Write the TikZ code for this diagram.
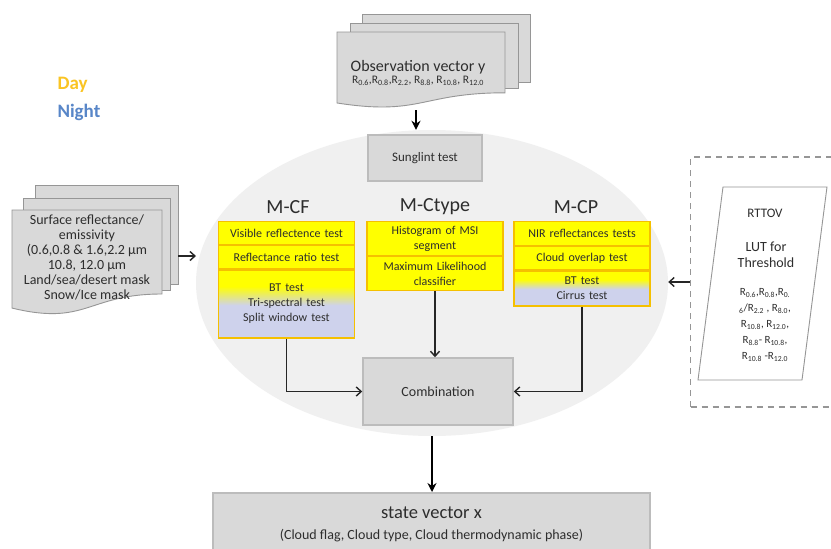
\documentclass[tikz,border=0pt]{standalone}
\usepackage{fontspec}
\setmainfont{Carlito}
\usetikzlibrary{positioning,shapes.geometric,arrows.meta}
\definecolor{boxgray}{RGB}{217,217,217}
\definecolor{edgegray}{RGB}{188,188,188}
\definecolor{pagegray}{RGB}{150,150,150}
\definecolor{ovalgray}{RGB}{240,240,240}
\definecolor{testyellow}{RGB}{255,255,0}
\definecolor{testedge}{RGB}{245,192,0}
\definecolor{nightblue}{RGB}{206,210,236}
\definecolor{daycol}{RGB}{250,196,35}
\definecolor{nightcol}{RGB}{88,134,200}
\definecolor{inkgray}{RGB}{45,45,45}
\pgfdeclareverticalshading{daynight}{100bp}{color(0bp)=(nightblue); color(49bp)=(nightblue); color(63bp)=(testyellow); color(100bp)=(testyellow)}
\newcommand{\docpath}[4]{%
  \draw[page] (#1,#2) -- (#3,#2) -- (#3,{#2+0.8*#4})
    .. controls ({(#1+#3)/2},{#2+0.8*#4}) and ({(#1+#3)/2},{#2+1.107*#4}) .. (#1,{#2+0.934*#4}) -- cycle;}
\tikzset{
  every node/.style={text=inkgray},
  graybox/.style={draw=edgegray, fill=boxgray, line width=1.5pt, inner sep=0pt},
  testrow/.style={draw=testedge, fill=testyellow, line width=1.2pt, text width=130pt,
    align=center, inner xsep=3pt, inner ysep=0pt, font=\fontsize{12}{15}\selectfont},
  mixrow/.style={testrow, shade, shading=daynight},
  method/.style={font=\fontsize{20}{24}\selectfont},
  flow/.style={draw=black!85, line width=1.4pt, -{Straight Barb[length=5pt,width=9pt]}},
  mainflow/.style={draw=black, line width=1.8pt, -{Stealth[length=9pt,width=9pt]}},
  page/.style={draw=pagegray, fill=boxgray, line width=0.9pt}
}
\begin{document}
\begin{tikzpicture}[x=1pt,y=-1pt]
  \path[use as bounding box, fill=white] (0,0) rectangle (831,549);
  \node[ellipse, fill=ovalgray, minimum width=472pt, minimum height=306pt, inner sep=0pt] (cyc) at (432,283) {};
  \node[draw=pagegray, dash pattern=on 6pt off 5pt, line width=1.2pt, minimum width=160pt,
    minimum height=250pt, anchor=west] (lutbox) at (690,282) {};
  \draw[draw=pagegray, fill=white, line width=0.9pt] (723,187) -- (827,187) -- (802,380) -- (698,380) -- cycle;

  \draw[page] (362,14) rectangle (530,82);
  \draw[page] (350,23) rectangle (518,88);
  \docpath{337}{32}{505}{76}
  \draw[page] (35,185) rectangle (178,284);
  \draw[page] (23,198) rectangle (170,290);
  \docpath{12}{210}{162}{105}

  \node[align=center] (obs) at (418,73) {{\fontsize{16}{18}\selectfont Observation vector y}\\
    {\fontsize{11.5}{13}\selectfont R\textsubscript{0.6},R\textsubscript{0.8},R\textsubscript{2.2}, R\textsubscript{8.8}, R\textsubscript{10.8}, R\textsubscript{12.0}}};
  \node[align=center, font=\fontsize{14}{15}\selectfont] (surf) at (87,257) {Surface reflectance/\\emissivity\\(0.6,0.8 \& 1.6,2.2 µm\\10.8, 12.0 µm\\Land/sea/desert mask\\Snow/Ice mask};
  \node[anchor=west, text=daycol, font=\bfseries\fontsize{19}{22}\selectfont] (day) at (54,85) {Day};
  \node[anchor=west, text=nightcol, font=\bfseries\fontsize{19}{22}\selectfont] (night) at (54,112) {Night};

  \node[font=\fontsize{13}{16}\selectfont] (rttov) at (765,213) {RTTOV};
  \node[align=center, font=\fontsize{14}{16}\selectfont] (lutfor) at (766,255) {LUT for\\Threshold};
  \node[align=center, font=\fontsize{11}{16}\selectfont] (rvals) at (765,325) {R\textsubscript{0.6},R\textsubscript{0.8},R\textsubscript{0.}\\
    \textsubscript{6}/R\textsubscript{2.2} , R\textsubscript{8.0},\\R\textsubscript{10.8}, R\textsubscript{12.0},\\
    R\textsubscript{8.8}- R\textsubscript{10.8},\\R\textsubscript{10.8} -R\textsubscript{12.0}};

  \node[graybox, minimum width=114pt, minimum height=46pt, font=\fontsize{13}{15}\selectfont] (sun) at (425,158) {Sunglint test};
  \node[method] (mcf) at (288,207) {M-CF};
  \node[method] (mct) at (435,207) {M-Ctype};
  \node[method] (mcp) at (576,207) {M-CP};

  \node[testrow, minimum height=23pt, anchor=north] (cf1) at (286.5,221) {Visible reflectence test};
  \node[testrow, minimum height=23pt, below=0pt of cf1] (cf2) {Reflectance ratio test};
  \node[mixrow, minimum height=68pt, below=0pt of cf2] (cf3) {BT test\\Tri-spectral test\\Split window test};
  \node[testrow, minimum height=34pt, anchor=north] (ct1) at (435,221) {Histogram of MSI\\segment};
  \node[testrow, minimum height=34pt, below=0pt of ct1] (ct2) {Maximum Likelihood\\classifier};
  \node[testrow, minimum height=24pt, anchor=north] (cp1) at (582,221) {NIR reflectances tests};
  \node[testrow, minimum height=23pt, below=0pt of cp1] (cp2) {Cloud overlap test};
  \node[mixrow, minimum height=35pt, below=0pt of cp2] (cp3) {BT test\\Cirrus test};

  \node[graybox, minimum width=150pt, minimum height=67pt, font=\fontsize{14}{16}\selectfont] (comb) at (438,391.5) {Combination};
  \node[graybox, minimum width=437pt, minimum height=64pt, anchor=north, align=center,
    font=\fontsize{18.5}{21}\selectfont] (state) at (431.5,492) {state vector x\\
    {\fontsize{14}{16}\selectfont (Cloud flag, Cloud type, Cloud thermodynamic phase)}};

  \coordinate (obsout) at (416,110);
  \coordinate (surfout) at (178,256);
  \coordinate (surfin) at (196,256);
  \draw[mainflow] (obsout) -- (obsout |- cyc.north);
  \draw[flow] (surfout) -- (surfin);
  \draw[flow] (lutbox.west) -- (lutbox.west -| cyc.east);
  \draw[flow] (cf3.south) |- (comb.west);
  \draw[flow] (ct2.south) -- (ct2.south |- comb.north);
  \draw[flow] (cp3.south) |- (comb.east);
  \draw[mainflow] (cyc.south) -- (cyc.south |- state.north);
\end{tikzpicture}
\end{document}
